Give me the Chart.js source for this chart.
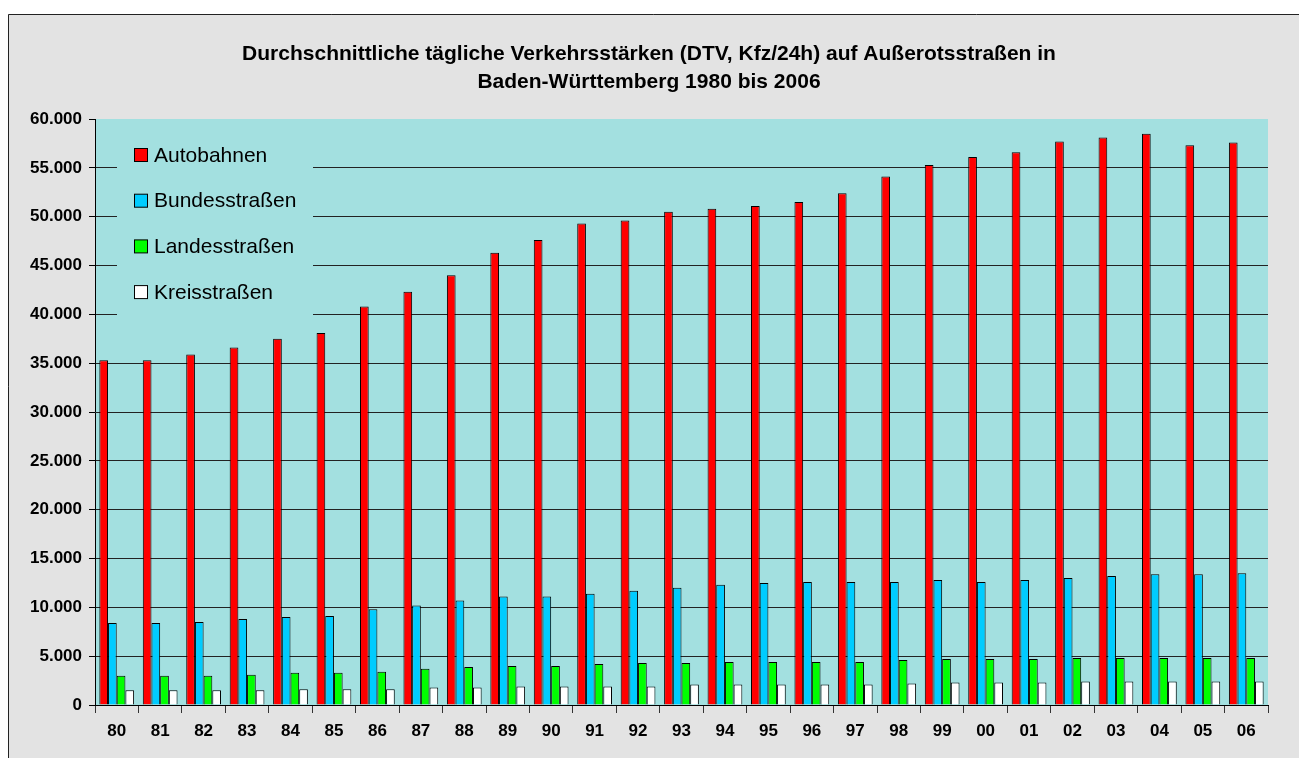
<!DOCTYPE html>
<html>
<head>
<meta charset="utf-8">
<script src="https://cdn.jsdelivr.net/npm/chart.js@4/dist/chart.umd.min.js"></script>
<style>
html,body{margin:0;padding:0;background:#fff;}
canvas{display:block;}
</style>
</head>
<body>
<canvas id="c" width="1299" height="758"></canvas>
<script>
const categories = ['80','81','82','83','84','85','86','87','88','89','90','91','92','93','94','95','96','97','98','99','00','01','02','03','04','05','06'];
const autobahnen = [35300,35300,35900,36600,37500,38100,40800,42300,44000,46300,47600,49300,49600,50500,50800,51100,51500,52400,54100,55300,56100,56600,57700,58100,58500,57300,57600];
const bundesstrassen = [8400,8400,8500,8800,9000,9100,9800,10200,10700,11100,11100,11400,11700,12000,12300,12500,12600,12600,12600,12800,12600,12800,13000,13200,13400,13400,13500];
const landesstrassen = [3000,3000,3000,3100,3300,3300,3400,3700,3900,4000,4000,4200,4300,4300,4400,4400,4400,4400,4600,4700,4700,4700,4800,4800,4800,4800,4800];
const kreisstrassen = [1500,1500,1500,1500,1600,1600,1600,1800,1800,1900,1900,1900,1900,2100,2100,2100,2100,2100,2200,2300,2300,2300,2400,2400,2400,2400,2400];
const seriesNames = ['Autobahnen','Bundesstraßen','Landesstraßen','Kreisstraßen'];
const titleLines = ['Durchschnittliche tägliche Verkehrsstärken (DTV, Kfz/24h) auf Außerotsstraßen in','Baden-Württemberg 1980 bis 2006'];
const yMax = 60000, yStep = 5000;

const FONT = '"Liberation Sans", Arial, sans-serif';
const colors = ['#ff0000','#00ccff','#00ff00','#ffffff'];

function fmt(v){ return String(v).replace(/\B(?=(\d{3})+(?!\d))/g,'.'); }

const bgPlugin = {
  id:'bg',
  beforeDraw(chart){
    const ctx = chart.ctx, a = chart.chartArea;
    ctx.save();
    ctx.fillStyle = '#ffffff';
    ctx.fillRect(0,0,chart.width,chart.height);
    ctx.fillStyle = '#e3e3e3';
    ctx.fillRect(8,14,chart.width-8,chart.height-14);
    ctx.strokeStyle = '#222';
    ctx.lineWidth = 1;
    ctx.beginPath();
    ctx.moveTo(8.5,chart.height); ctx.lineTo(8.5,14.5); ctx.lineTo(chart.width,14.5);
    ctx.stroke();
    ctx.fillStyle = '#a3e0e0';
    ctx.fillRect(a.left,a.top,a.right-a.left,a.bottom-a.top);
    ctx.restore();
  }
};

const legendPlugin = {
  id:'customLegend',
  beforeDatasetsDraw(chart){
    const ctx = chart.ctx, a = chart.chartArea;
    ctx.save();
    ctx.fillStyle = '#a3e0e0';
    ctx.fillRect(a.left+22, a.top+1, 196, 215);
    ctx.font = '21px ' + FONT;
    ctx.textBaseline = 'middle';
    ctx.textAlign = 'left';
    chart.data.datasets.forEach((ds,i)=>{
      const cy = a.top + 36 + i*45.7;
      ctx.fillStyle = ds.backgroundColor;
      ctx.fillRect(a.left+39.5, cy-6.5, 13, 13);
      ctx.strokeStyle = '#000';
      ctx.lineWidth = 1;
      ctx.strokeRect(a.left+39.5, cy-6.5, 13, 13);
      ctx.fillStyle = '#000';
      ctx.fillText(ds.label, a.left+59, cy+1);
    });
    ctx.restore();
  }
};

new Chart(document.getElementById('c'), {
  type:'bar',
  data:{
    labels: categories,
    datasets: [autobahnen,bundesstrassen,landesstrassen,kreisstrassen].map((d,i)=>({
      label: seriesNames[i],
      data: d,
      backgroundColor: colors[i],
      borderColor: '#000',
      borderWidth: 1,
      categoryPercentage: 0.8,
      barPercentage: 1.0
    }))
  },
  options:{
    responsive:false,
    animation:false,
    devicePixelRatio:1,
    layout:{padding:{left:30,right:31,top:40,bottom:0}},
    plugins:{
      legend:{display:false},
      tooltip:{enabled:false},
      title:{
        display:true,
        text:titleLines,
        color:'#000',
        font:{family:FONT,size:21,weight:'bold',lineHeight:'28px'},
        padding:{top:0,bottom:23}
      }
    },
    scales:{
      x:{
        grid:{display:true,offset:true,drawOnChartArea:false,color:'#333',tickLength:8},
        border:{display:true,color:'#000'},
        ticks:{color:'#000',font:{family:FONT,size:17,weight:'bold'},padding:8,maxRotation:0},
        afterFit(s){ s.height = 53; }
      },
      y:{
        min:0,max:yMax,
        grid:{
          color:(c)=> (c.tick && c.tick.value===yMax) ? 'rgba(0,0,0,0)' : '#222',
          tickColor:'#000',
          tickLength:6
        },
        border:{display:true,color:'#000'},
        ticks:{stepSize:yStep,color:'#000',font:{family:FONT,size:17,weight:'bold'},padding:7,callback:(v)=>fmt(v)},
        afterFit(s){ s.width = 65; }
      }
    }
  },
  plugins:[bgPlugin,legendPlugin]
});
</script>
</body>
</html>
